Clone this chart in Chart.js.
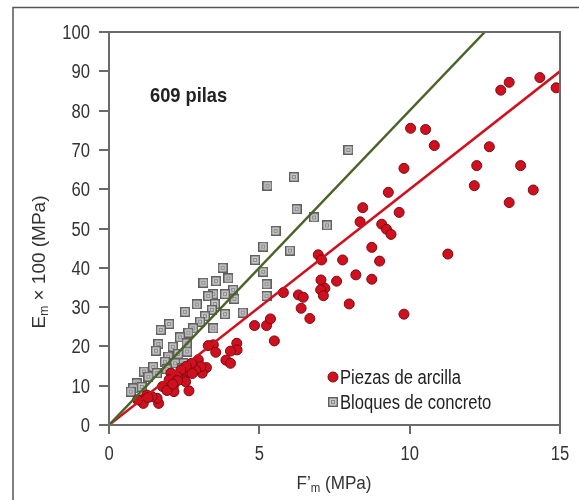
<!DOCTYPE html>
<html>
<head>
<meta charset="utf-8">
<script src="https://cdn.jsdelivr.net/npm/chart.js@4.4.1/dist/chart.umd.min.js"></script>
<style>
  html, body { margin:0; padding:0; background:#fff; }
  #wrap { width:579px; height:500px; position:relative; }
</style>
</head>
<body>
<div id="wrap"><canvas id="chart" width="579" height="500"></canvas></div>
<script>
// Piezas de arcilla (F'm, Em x 100)
const clayX = [14.87,14.33,13.31,13.03,10.03,10.53,10.82,12.65,9.81,12.23,13.69,12.15,14.11,13.31,9.29,8.44,8.35,9.65,9.07,9.23,9.38,8.74,11.27,9.0,7.77,6.96,7.07,8.21,8.74,7.57,7.05,7.18,7.04,7.13,9.81,7.99,6.3,6.46,5.8,6.39,6.68,4.84,5.24,5.37,5.5,4.25,4.26,4.04,3.89,4.04,3.47,3.3,3.55,3.24,3.1,2.97,2.66,3.06,2.88,2.75,2.57,2.45,2.5,2.39,2.27,2.2,2.14,2.06,2.0,1.92,1.78,1.65,1.6,1.43,1.26,1.1,1.14,0.95,1.3,2.16,2.55,2.77,2.28,1.93,2.12];
const clayY = [85.8,88.4,87.2,85.2,75.5,75.2,71.1,70.8,65.3,66.0,66.0,60.9,59.8,56.6,59.2,55.3,51.7,54.1,51.1,49.8,48.5,45.2,43.5,41.7,42.0,43.3,42.0,38.2,37.1,36.6,36.9,34.8,34.4,32.9,28.2,30.8,33.1,32.5,33.7,29.7,27.1,25.3,25.3,27.0,21.4,20.8,19.1,18.8,16.5,15.7,20.4,20.2,18.5,14.6,13.2,16.6,8.7,14.9,14.0,15.7,14.9,12.7,11.5,14.0,12.3,11.0,9.8,13.2,11.5,8.9,9.8,5.5,6.8,7.2,7.6,6.4,5.5,6.4,7.0,8.5,11.0,13.1,11.3,8.8,10.4];

// Bloques de concreto
const blockX = [7.96,5.27,6.15,6.24,6.82,7.25,5.54,5.13,6.02,4.86,5.13,5.24,5.24,4.45,3.78,3.97,3.56,3.14,4.13,3.86,3.47,3.3,4.17,3.52,2.92,2.53,3.42,3.19,3.86,3.03,3.47,2.8,2.0,1.72,2.64,2.36,1.64,2.12,1.56,2.6,2.3,1.97,2.47,2.2,1.86,1.47,1.16,1.59,1.31,0.92,0.81,0.72,1.09,1.92,2.42,2.58];
const blockY = [70.0,60.9,63.1,54.9,52.8,50.8,49.4,45.4,44.4,42.0,39.0,35.8,32.8,28.6,40.0,37.3,36.6,36.2,34.4,33.3,33.3,32.8,32.1,30.8,30.7,28.8,29.3,27.7,28.2,26.3,24.6,24.6,25.7,24.2,23.5,22.3,20.6,19.9,18.9,18.7,18.1,17.4,15.7,15.7,16.1,14.8,13.6,13.2,12.3,10.6,9.3,8.5,9.7,14.2,14.4,20.8];

// rectas de ajuste
const clayFitX = [0, 15];
const clayFitY = [0, 90];
const blockFitX = [0, 12.5];
const blockFitY = [0, 100];

const xTicks = [0, 5, 10, 15];
const yTicks = [0, 10, 20, 30, 40, 50, 60, 70, 80, 90, 100];

const FONT = "'Liberation Sans', Arial, sans-serif";
const NARROW = 0.83;   // no hay fuente condensada, se estrecha a mano
const RED = '#d0101e';
const GREEN = '#4a6329';

const pts = (xs, ys) => xs.map((x, i) => ({ x, y: ys[i] }));

// marcador cuadrado con la cajita interior
function makeSquare(){
  const c = document.createElement('canvas');
  c.width = 10; c.height = 10;
  const g = c.getContext('2d');
  g.fillStyle = '#c9c9c9';
  g.fillRect(0, 0, 10, 10);
  g.strokeStyle = '#5f5f5f';
  g.lineWidth = 1.4;
  g.strokeRect(0.7, 0.7, 8.6, 8.6);
  g.strokeStyle = '#8a8a8a';
  g.lineWidth = 1;
  g.strokeRect(3.5, 3.5, 3, 3);
  return c;
}
const squareImg = makeSquare();

function narrowText(ctx, txt, x, y, align, k){
  ctx.save();
  ctx.translate(x, y);
  ctx.scale(k || NARROW, 1);
  ctx.textAlign = align;
  ctx.fillText(txt, 0, 0);
  ctx.restore();
}

function drawSubText(ctx, parts, cx, cy, k){
  // parts: [texto, tamaño, dy]
  let total = 0;
  parts.forEach(p => { ctx.font = p[1] + 'px ' + FONT; total += ctx.measureText(p[0]).width * k; });
  let x = cx - total / 2;
  parts.forEach(p => {
    ctx.font = p[1] + 'px ' + FONT;
    narrowText(ctx, p[0], x, cy + p[2], 'left', k);
    x += ctx.measureText(p[0]).width * k;
  });
}

const decor = {
  id: 'decor',
  beforeDraw(chart){
    const ctx = chart.ctx;
    ctx.save();
    ctx.strokeStyle = '#555';
    ctx.lineWidth = 1.5;
    ctx.beginPath();
    ctx.moveTo(13, 500); ctx.lineTo(13, 7.5); ctx.lineTo(579, 7.5);
    ctx.stroke();
    ctx.restore();
  },
  afterDraw(chart){
    const ctx = chart.ctx;
    const a = chart.chartArea;
    const sx = chart.scales.x, sy = chart.scales.y;
    ctx.save();
    // marco del area
    ctx.strokeStyle = '#6a6a6a';
    ctx.lineWidth = 2;
    ctx.strokeRect(a.left, a.top, a.right - a.left, a.bottom - a.top);

    ctx.textBaseline = 'alphabetic';
    ctx.fillStyle = '#333';

    // etiquetas de ticks
    ctx.font = '20px ' + FONT;
    sy.ticks.forEach(t => narrowText(ctx, String(t.value), 90, sy.getPixelForValue(t.value) + 7, 'right'));
    sx.ticks.forEach(t => narrowText(ctx, String(t.value), sx.getPixelForValue(t.value), 460, 'center'));

    // 609 pilas
    ctx.fillStyle = '#222';
    ctx.font = 'bold 21px ' + FONT;
    narrowText(ctx, '609 pilas', 150, 102, 'left', 0.87);

    // leyenda
    ctx.beginPath();
    ctx.arc(333, 377, 5, 0, Math.PI * 2);
    ctx.fillStyle = RED; ctx.fill();
    ctx.strokeStyle = '#7a0a10'; ctx.lineWidth = 1; ctx.stroke();
    ctx.drawImage(squareImg, 328, 397);
    ctx.fillStyle = '#222';
    ctx.font = '20px ' + FONT;
    narrowText(ctx, 'Piezas de arcilla', 340, 384, 'left');
    narrowText(ctx, 'Bloques de concreto', 340, 409, 'left');

    // titulos de ejes
    ctx.fillStyle = '#333';
    drawSubText(ctx, [['F\u2019', 18, 0], ['m', 12, 3], [' (MPa)', 18, 0]], 334, 489, 0.95);
    ctx.translate(45, 262);
    ctx.rotate(-Math.PI / 2);
    drawSubText(ctx, [['E', 19, 0], ['m', 12, 3], [' \u00d7 100 (MPa)', 19, 0]], 0, 0, 1);
    ctx.restore();
  }
};

new Chart(document.getElementById('chart'), {
  type: 'scatter',
  data: {
    datasets: [
      { type: 'line', data: pts(blockFitX, blockFitY), borderColor: GREEN, borderWidth: 2.5, pointRadius: 0, order: 0 },
      { type: 'line', data: pts(clayFitX, clayFitY), borderColor: RED, borderWidth: 2.5, pointRadius: 0, order: 0 },
      { label: 'Piezas de arcilla', data: pts(clayX, clayY), pointStyle: 'circle', pointRadius: 5,
        backgroundColor: RED, borderColor: '#7a0a10', borderWidth: 1, order: 1 },
      { label: 'Bloques de concreto', data: pts(blockX, blockY), pointStyle: squareImg, order: 2 }
    ]
  },
  options: {
    responsive: false,
    animation: false,
    layout: { padding: { left: 0, top: 32, right: 19, bottom: 0 } },
    plugins: { legend: { display: false }, tooltip: { enabled: false } },
    scales: {
      x: {
        type: 'linear', min: 0, max: 15,
        afterBuildTicks: s => { s.ticks = xTicks.map(v => ({ value: v })); },
        afterFit: s => { s.height = 75; },
        ticks: { display: false },
        grid: { drawOnChartArea: false, tickLength: 9, color: '#6a6a6a', lineWidth: 2 },
        border: { color: '#6a6a6a', width: 2 }
      },
      y: {
        min: 0, max: 100,
        afterBuildTicks: s => { s.ticks = yTicks.map(v => ({ value: v })); },
        afterFit: s => { s.width = 109; },
        ticks: { display: false },
        grid: { drawOnChartArea: false, tickLength: 10, color: '#6a6a6a', lineWidth: 2 },
        border: { color: '#6a6a6a', width: 2 }
      }
    }
  },
  plugins: [decor]
});
</script>
</body>
</html>
